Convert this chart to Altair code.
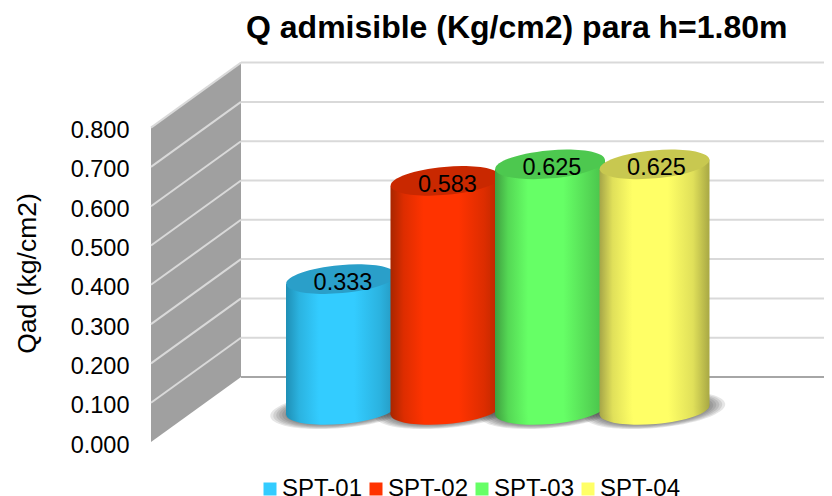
import altair as alt
import pandas as pd

# --- values
series = ["SPT-01", "SPT-02", "SPT-03", "SPT-04"]
values = [0.333, 0.583, 0.625, 0.625]
ticks = [0.0, 0.1, 0.2, 0.3, 0.4, 0.5, 0.6, 0.7, 0.8]
base_colors = ["#33ccff", "#ff3300", "#66ff66", "#ffff66"]
top_colors = ["#2a9fc9", "#c92800", "#4dc84f", "#c8c850"]
left_colors = ["#1f8fb5", "#a82600", "#3f9f40", "#a5a548"]
mid_colors = ["#2bb3e0", "#dd2d00", "#55d855", "#e0e05a"]
right_colors = ["#2596bd", "#b82800", "#48c04a", "#a8a844"]
centers = [190, 294.5, 399, 503.5]   # horizontal place of each cylinder on the x scale

# --- layout (scale units: x in px, y in value units)
FONT = "Liberation Sans"
LEFT, TOP, BOTTOM = 151, 50, 442
W = 824 - LEFT
H = BOTTOM - TOP
PX = 393.0
DEPTH_X = 90
DEPTH_Y = 65 / PX
BAR_BASE = 32 / PX
HALF = 55
TILT = 355
ELLIPSE = "M-1,0 A1,0.255 0 1 1 1,0 A1,0.255 0 1 1 -1,0 Z"
SLOPE = 4.8 / PX

xs = alt.Scale(domain=[0, W], nice=False, zero=False)
ys = alt.Scale(domain=[0, H / PX], nice=False, zero=False)
YAX = alt.Axis(
    values=ticks, format=".3f", domain=False, ticks=False, grid=False,
    labelFont=FONT, labelFontSize=23.5, labelColor="#000000", labelPadding=22,
    labelOffset=3, title="Qad (kg/cm2)", titleFont=FONT, titleFontSize=26.5,
    titleFontWeight="normal", titleColor="#000000", titleX=27 - LEFT,
    titleY=273 - TOP, titleAngle=270, titleAlign="center", titleBaseline="middle",
)
X = lambda f: alt.X(f, type="quantitative", scale=xs, axis=None)
X2 = lambda f: alt.X2(f)
Y = lambda f: alt.Y(f, type="quantitative", scale=ys, axis=YAX)


def grad(stops):
    return alt.Gradient(
        gradient="linear", x1=0, x2=1, y1=0, y2=0,
        stops=[alt.GradientStop(color=c, offset=o) for o, c in stops],
    )


layers = []

# legend carrier
carrier = pd.DataFrame({"s": series, "x": [0] * 4, "y": [0.0] * 4})
layers.append(
    alt.Chart(carrier).mark_square(opacity=0).encode(
        x=X("x"),
        y=Y("y"),
        color=alt.Color(
            "s:N",
            scale=alt.Scale(domain=series, range=base_colors),
            legend=alt.Legend(
                orient="none", legendX=258 - LEFT, legendY=477 - TOP, direction="horizontal",
                columns=4, title=None, symbolType="square", symbolSize=169, symbolOpacity=1,
                symbolStrokeWidth=0, labelFont=FONT, labelFontSize=24, labelColor="#000000",
                labelOffset=0, columnPadding=1, padding=0,
            ),
        ),
    )
)

# side wall
wall = pd.DataFrame({"x": [0, DEPTH_X], "lo": [0, DEPTH_Y], "hi": [ticks[-1], ticks[-1] + DEPTH_Y]})
layers.append(
    alt.Chart(wall).mark_area(color="#a0a0a0").encode(x=X("x"), y=Y("lo"), y2=alt.Y2("hi"))
)

# grid lines on the side wall and back wall
grid = pd.DataFrame({"t": ticks})
grid["side_x0"] = 0
grid["side_x1"] = DEPTH_X
grid["back_x1"] = W
grid["back_y"] = grid["t"] + DEPTH_Y
layers.append(
    alt.Chart(grid[grid.t > 0]).mark_rule(color="#d9d9d9", strokeWidth=2).encode(
        x=X("side_x0"), x2=X2("side_x1"), y=Y("t"), y2=alt.Y2("back_y")
    )
)
layers.append(
    alt.Chart(grid[grid.t > 0]).mark_rule(color="#d9d9d9", strokeWidth=2).encode(
        x=X("side_x1"), x2=X2("back_x1"), y=Y("back_y")
    )
)
layers.append(
    alt.Chart(grid[grid.t == 0]).mark_rule(color="#a6a6a6", strokeWidth=2).encode(
        x=X("side_x1"), x2=X2("back_x1"), y=Y("back_y")
    )
)

# soft floor shadow
for grow in [16, 13, 10, 7, 4, 1]:
    sh = pd.DataFrame({"x": centers, "y": [BAR_BASE] * 4})
    layers.append(
        alt.Chart(sh).mark_point(
            shape=ELLIPSE, size=(2 * (HALF + grow)) ** 2, filled=True, fill="#303030",
            opacity=0.12, strokeWidth=0, angle=TILT,
        ).encode(x=X("x"), y=Y("y"))
    )

# cylinders
for i, v in enumerate(values):
    g = grad([
        (0.0, left_colors[i]), (0.12, mid_colors[i]), (0.3, base_colors[i]),
        (0.62, base_colors[i]), (0.85, mid_colors[i]), (1.0, right_colors[i]),
    ])
    cx = centers[i]
    pt = pd.DataFrame({"x": [cx], "bot": [BAR_BASE], "top": [BAR_BASE + v]})
    body = pd.DataFrame({
        "x": [cx - HALF, cx + HALF],
        "bot": [BAR_BASE - SLOPE, BAR_BASE + SLOPE],
        "top": [BAR_BASE + v - SLOPE, BAR_BASE + v + SLOPE],
    })
    layers.append(
        alt.Chart(pt).mark_point(
            shape=ELLIPSE, size=(2 * HALF) ** 2, filled=True, fill=g, opacity=1,
            strokeWidth=0, angle=TILT,
        ).encode(x=X("x"), y=Y("bot"))
    )
    layers.append(alt.Chart(body).mark_area(color=g).encode(x=X("x"), y=Y("bot"), y2=alt.Y2("top")))
    layers.append(
        alt.Chart(pt).mark_point(
            shape=ELLIPSE, size=(2 * HALF) ** 2, filled=True, fill=top_colors[i], opacity=1,
            strokeWidth=0, angle=TILT,
        ).encode(x=X("x"), y=Y("top"))
    )

# data labels
lab = pd.DataFrame({"x": centers, "y": [BAR_BASE + v for v in values], "t": [f"{v:.3f}" for v in values]})
layers.append(
    alt.Chart(lab).mark_text(font=FONT, fontSize=23.5, color="#000000", dx=2, dy=4, baseline="middle").encode(
        x=X("x"), y=Y("y"), text="t:N"
    )
)

chart = alt.layer(*layers).properties(
    width=W,
    height=H,
    background="white",
    padding={"left": LEFT - 8, "top": TOP - 8, "right": 0, "bottom": 496 - BOTTOM},
    autosize=alt.AutoSizeParams(type="none"),
    title=alt.Title(
        "Q admisible (Kg/cm2) para h=1.80m", font=FONT, fontSize=32, fontWeight="bold",
        color="#000000", anchor="start", dx=232, offset=5,
    ),
).configure_view(stroke=None)

chart.save("out.html", embed_options={"renderer": "svg", "actions": False})
